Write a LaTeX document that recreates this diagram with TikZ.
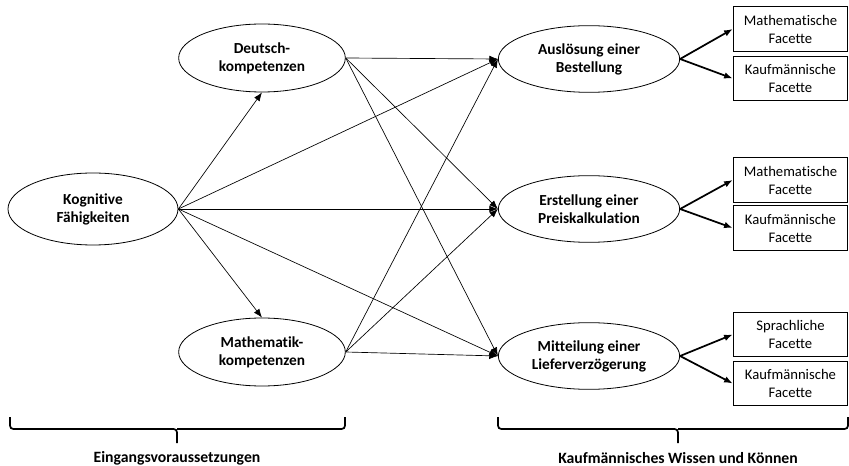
\documentclass[tikz,border=0pt]{standalone}
\usepackage{fontspec}
\setmainfont{Carlito}[Ligatures={NoCommon}]
\usetikzlibrary{arrows.meta, shapes.geometric}

\begin{document}
\begin{tikzpicture}[
    x=0.75pt, y=-0.75pt,
    latent/.style={draw, ellipse, line width=0.6pt, inner sep=0pt, minimum width=125pt, minimum height=51pt, align=center, font=\bfseries\fontsize{11.5}{13.5}\selectfont},
    outcome/.style={latent, minimum width=136pt, minimum height=50pt},
    facet/.style={draw, line width=0.6pt, inner sep=0pt, minimum width=86pt, minimum height=33.5pt, align=center, font=\fontsize{11}{13.5}\selectfont},
    arr/.style={-{Latex[length=6.5pt, width=5pt]}, line width=0.5pt},
    thickarr/.style={-{Latex[length=6.5pt, width=5pt]}, line width=1.3pt},
    brace/.style={line width=1.3pt, rounded corners=2.5pt},
    caption/.style={font=\bfseries\fontsize{11.8}{13.5}\selectfont}
  ]
  \useasboundingbox (0,0) rectangle (849,466);

  \node[latent, minimum width=127.5pt, minimum height=54pt] (kog) at (93,209) {Kognitive\\Fähigkeiten};
  \node[latent] (deu) at (262,58) {Deutsch-\\kompetenzen};
  \node[latent] (mat) at (262,352) {Mathematik-\\kompetenzen};

  \node[outcome] (aus) at (589,59) {Auslösung einer\\Bestellung};
  \node[outcome] (ers) at (589,209) {Erstellung einer\\Preiskalkulation};
  \node[outcome] (mit) at (589,356) {Mitteilung einer\\Lieferverzögerung};

  \node[facet] (ausM) at (790.5,29) {Mathematische\\Facette};
  \node[facet] (ausK) at (790.5,78.5) {Kaufmännische\\Facette};
  \node[facet] (ersM) at (790.5,180) {Mathematische\\Facette};
  \node[facet] (ersK) at (790.5,228) {Kaufmännische\\Facette};
  \node[facet] (mitS) at (790.5,334.5) {Sprachliche\\Facette};
  \node[facet] (mitK) at (790.5,383.5) {Kaufmännische\\Facette};

  \draw[arr] (kog.east) -- (deu.south);
  \draw[arr] (kog.east) -- (mat.north);
  \draw[arr] (kog.east) -- (aus.west);
  \draw[arr] (kog.east) -- (ers.west);
  \draw[arr] (kog.east) -- (mit.west);

  \draw[arr] (deu.east) -- (aus.west);
  \draw[arr] (deu.east) -- (ers.west);
  \draw[arr] (deu.east) -- (mit.west);
  \draw[arr] (mat.east) -- (aus.west);
  \draw[arr] (mat.east) -- (ers.west);
  \draw[arr] (mat.east) -- (mit.west);

  \draw[thickarr] (aus.east) -- (ausM.west);
  \draw[thickarr] (aus.east) -- (ausK.west);
  \draw[thickarr] (ers.east) -- (ersM.west);
  \draw[thickarr] (ers.east) -- (ersK.west);
  \draw[thickarr] (mit.east) -- (mitS.west);
  \draw[thickarr] (mit.east) -- (mitK.west);

  % braces below
  \draw[brace] (10,417) |- (177,429) -- (177,443);
  \draw[brace] (345,417) |- (177,429);
  \draw[brace] (498,417) |- (678,429) -- (678,443);
  \draw[brace] (848,417) |- (678,429);

  \node[caption] (pre) at (177,458) {Eingangsvoraussetzungen};
  \node[caption] (know) at (678,458) {Kaufmännisches Wissen und Können};
\end{tikzpicture}
\end{document}
